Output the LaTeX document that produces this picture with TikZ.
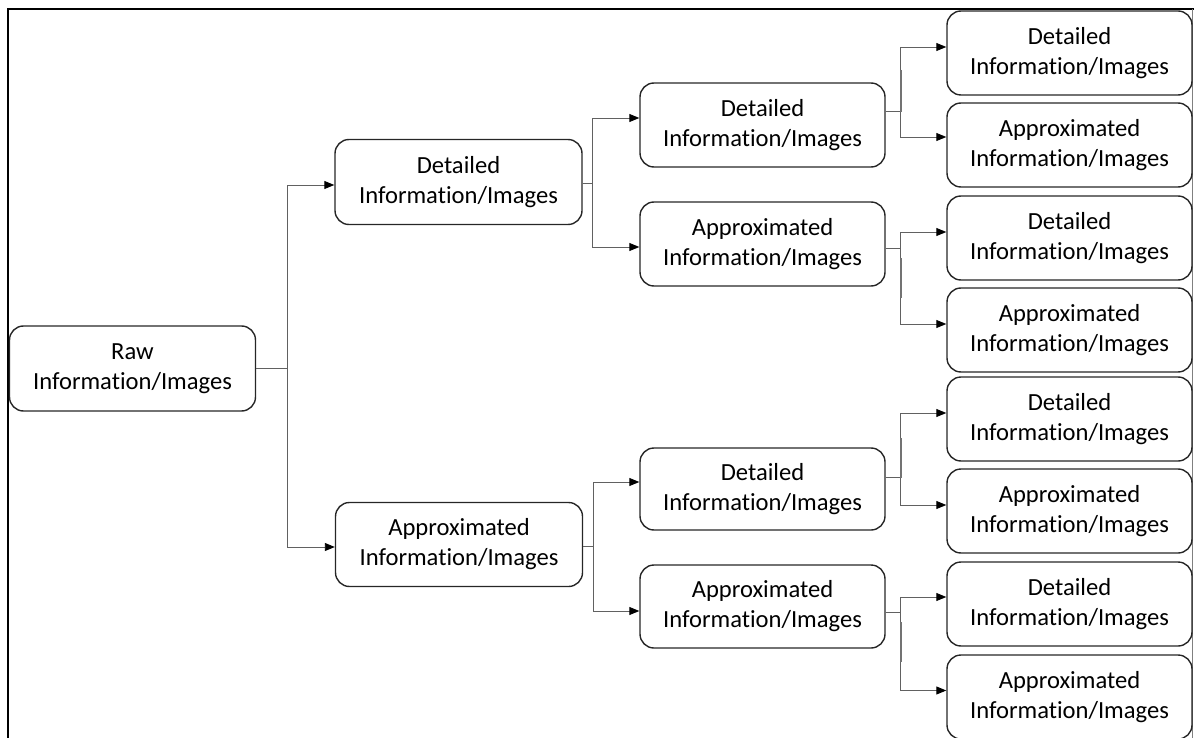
\documentclass[tikz,border=0pt]{standalone}
\usepackage{fontspec}
\setmainfont{Carlito}[Ligatures=NoCommon]
\usetikzlibrary{calc,arrows.meta}
\tikzset{
  infobox/.style={draw=black!85, line width=1.4pt, rounded corners=14pt,
    minimum width=245pt, minimum height=84pt, align=center, inner sep=0pt,
    font=\fontsize{24.6}{30}\selectfont, text=black},
  conn/.style={draw=black!62, line width=0.9pt,
    -{Triangle[length=10pt,width=8pt,color=black]}},
  overlap/.style={draw=black!55, line width=1.8pt},
}
\begin{document}
\begin{tikzpicture}[x=1pt,y=-1pt]
\useasboundingbox (0,0) rectangle (1194,738);
% outer frame
\draw[line width=2pt, black] (8,745) -- (8,9) -- (1194,9);
\draw[line width=0.8pt, black!50] (1192.5,9) -- (1192.5,745);

% root
\node[infobox, minimum width=246pt, minimum height=85pt] (raw) at (132.5,368.5) {Raw\\Information/Images};
% first split
\node[infobox, minimum width=247pt, minimum height=85pt] (l1d) at (458.5,182) {Detailed\\Information/Images};
\node[infobox, minimum width=247pt, minimum height=84pt] (l1a) at (459,544.5) {Approximated\\Information/Images};
% second split
\node[infobox] (l2d1) at (762.5,125) {Detailed\\Information/Images};
\node[infobox] (l2a1) at (762.5,244) {Approximated\\Information/Images};
\node[infobox, minimum height=82pt] (l2d2) at (762.5,489) {Detailed\\Information/Images};
\node[infobox, minimum height=83pt] (l2a2) at (762.5,606.5) {Approximated\\Information/Images};
% third split
\node[infobox] (l3a) at (1069.5,53)  {Detailed\\Information/Images};
\node[infobox] (l3b) at (1069.5,145) {Approximated\\Information/Images};
\node[infobox] (l3c) at (1069.5,238) {Detailed\\Information/Images};
\node[infobox] (l3d) at (1069.5,330) {Approximated\\Information/Images};
\node[infobox] (l3e) at (1069.5,419) {Detailed\\Information/Images};
\node[infobox] (l3f) at (1069.5,511) {Approximated\\Information/Images};
\node[infobox] (l3g) at (1069.5,604) {Detailed\\Information/Images};
\node[infobox] (l3h) at (1069.5,697) {Approximated\\Information/Images};

% root -> first split
\draw[conn] (raw.east) -- ++(31.5,0) |- ($(l1d.west)+(0,3)$);
\draw[conn] (raw.east) -- ++(31.5,0) |- ($(l1a.west)+(0,2.5)$);
% first split -> second split
\draw[conn] ($(l1d.east)+(0,1)$) -- ++(10,0) |- ($(l2d1.west)+(0,-7)$);
\draw[conn] ($(l1d.east)+(0,1)$) -- ++(10,0) |- ($(l2a1.west)+(0,3)$);
\draw[conn] ($(l1a.east)+(0,1.5)$) -- ++(10,0) |- ($(l2d2.west)+(0,-7)$);
\draw[conn] ($(l1a.east)+(0,1.5)$) -- ++(10,0) |- ($(l2a2.west)+(0,4.5)$);
% second split -> third split
\draw[conn] ($(l2d1.east)+(0,-14)$) -- ++(15,0) |- ($(l3a.west)+(0,-6)$);
\draw[conn] ($(l2d1.east)+(0,-14)$) -- ++(15,0) |- ($(l3b.west)+(0,-8)$);
\draw[conn] ($(l2a1.east)+(0,4)$) -- ++(15,0) |- ($(l3c.west)+(0,-6)$);
\draw[conn] ($(l2a1.east)+(0,4)$) -- ++(15,0) |- ($(l3d.west)+(0,-6)$);
\draw[conn] ($(l2d2.east)+(0,-12)$) -- ++(15,0) |- ($(l3e.west)+(0,-6)$);
\draw[conn] ($(l2d2.east)+(0,-12)$) -- ++(15,0) |- ($(l3f.west)+(0,-6)$);
\draw[conn] ($(l2a2.east)+(0,5.5)$) -- ++(15,0) |- ($(l3g.west)+(0,-7)$);
\draw[conn] ($(l2a2.east)+(0,5.5)$) -- ++(15,0) |- ($(l3h.west)+(0,-6.5)$);

% doubled stretches on the third-level branch lines
\draw[overlap] ($(l2d1.east)+(15,-55)$) -- ($(l2d1.east)+(15,-13)$);
\draw[overlap] ($(l2a1.east)+(15,14)$) -- ($(l2a1.east)+(15,54)$);
\draw[overlap] ($(l2d2.east)+(15,-51)$) -- ($(l2d2.east)+(15,-11)$);
\draw[overlap] ($(l2a2.east)+(15,15.5)$) -- ($(l2a2.east)+(15,55.5)$);
\end{tikzpicture}
\end{document}
